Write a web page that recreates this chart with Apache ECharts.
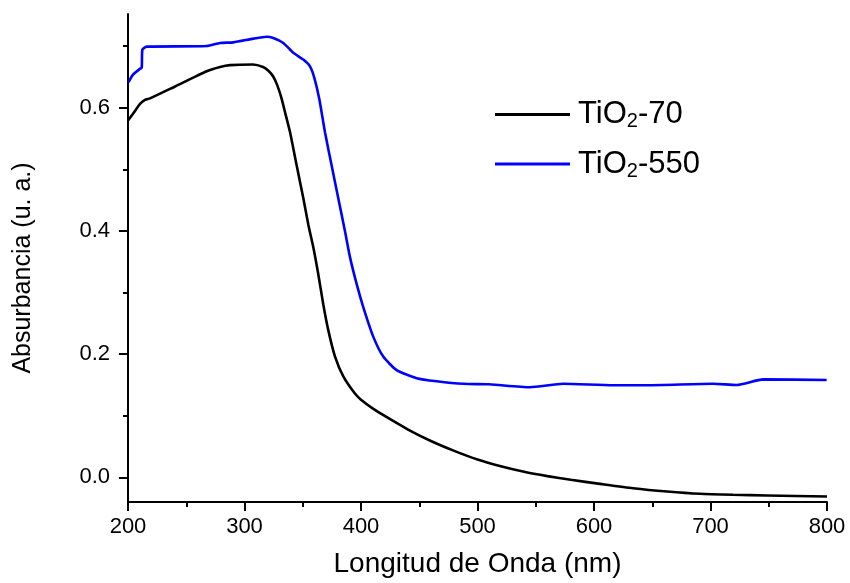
<!DOCTYPE html>
<html><head><meta charset="utf-8">
<script src="https://cdn.jsdelivr.net/npm/echarts@6/dist/echarts.min.js"></script>
<style>html,body{margin:0;padding:0;background:#fff}#c{width:850px;height:583px}</style>
</head><body><div id="c"></div>
<script>
// TiO2-70 (black) : [wavelength nm, absorbance]
const tio70 = [
 [200,0.579],[204.3,0.590],[210.3,0.606],[214.6,0.6125],[218.9,0.615],[240,0.634],[267.6,0.659],
 [279,0.666],[287.6,0.669],[307.3,0.670],[315.9,0.666],[320.5,0.660],[324.5,0.651],[328,0.637],
 [331.5,0.617],[335,0.591],[339.1,0.560],[344.8,0.506],[350.5,0.453],[354.8,0.410],[359.1,0.373],
 [363.3,0.330],[367.6,0.281],[371.9,0.239],[377.7,0.196],[384.8,0.164],[394.8,0.136],[400,0.126],
 [410,0.112],[420,0.100],[440,0.078],[460,0.059],[480,0.043],[500,0.029],[520,0.018],[540,0.009],
 [560,0.002],[580,-0.004],[605.2,-0.0106],[633.5,-0.0177],[662.7,-0.023],[691,-0.0267],
 [719.3,-0.0283],[748.5,-0.0294],[800,-0.031]
];
// TiO2-550 (blue)
const tio550 = [
 [200.3,0.641],[204.5,0.654],[210.3,0.663],[211.8,0.665],[212.3,0.694],[216,0.699],[267.6,0.700],
 [279,0.705],[290.4,0.706],[307.6,0.712],[319,0.715],[324.7,0.713],[333.3,0.705],[341.9,0.689],
 [350.5,0.678],[356.2,0.667],[360,0.648],[364.2,0.614],[369.1,0.560],[374.8,0.506],[380.5,0.453],
 [386.3,0.399],[390.6,0.357],[396.3,0.3135],[402,0.276],[410.6,0.228],[419.1,0.196],[430.6,0.174],
 [447.8,0.161],[465,0.156],[488,0.1518],[510,0.151],[545,0.1463],[573.7,0.1518],[616.6,0.1495],
 [645.2,0.1495],[702.4,0.1518],[722.5,0.150],[745.3,0.159],[799.7,0.158]
];
const yMajor = [0, 0.2, 0.4, 0.6];
const yMinor = [0.1, 0.3, 0.5, 0.7];
const seriesNames = ['TiO2-70', 'TiO2-550'];

const FONT = "'Liberation Sans', Arial, sans-serif";
const chart = echarts.init(document.getElementById('c'));
const yBase = {
  type: 'value', min: -0.04, max: 0.752,
  splitLine: {show: false}
};
chart.setOption({
  animation: false,
  grid: {left: 128, right: 23, top: 14, bottom: 77},
  legend: {
    orient: 'vertical', left: 495, top: 99, itemGap: 17, padding: 0,
    itemWidth: 75, itemHeight: 3, icon: 'rect',
    data: seriesNames,
    formatter: function (n) {
      const parts = n.split('2');
      return '{a|' + parts[0] + '}{s|2}{a|' + parts[1] + '}';
    },
    textStyle: {
      padding: [0,0,0,3],
      rich: {
        a: {fontSize: 31, fontFamily: FONT, color: '#000', lineHeight: 34},
        s: {fontSize: 20, fontFamily: FONT, color: '#000', lineHeight: 6, verticalAlign: 'bottom'}
      }
    }
  },
  xAxis: {
    type: 'value', min: 200, max: 800, interval: 100,
    name: 'Longitud de Onda (nm)', nameLocation: 'middle', nameGap: 48,
    nameTextStyle: {fontSize: 28, fontFamily: FONT, color: '#000'},
    axisLine: {show: true, onZero: false, lineStyle: {color: '#000', width: 2}},
    axisTick: {show: true, inside: false, length: 9, lineStyle: {color: '#000', width: 2}},
    minorTick: {show: true, splitNumber: 2, length: 5, lineStyle: {color: '#000', width: 2}},
    axisLabel: {fontSize: 22, fontFamily: FONT, color: '#000', margin: 14},
    splitLine: {show: false}
  },
  yAxis: [
    Object.assign({}, yBase, {
      name: 'Absurbancia (u. a.)', nameLocation: 'middle', nameGap: 92,
      nameTextStyle: {fontSize: 25, fontFamily: FONT, color: '#000', padding: [0, 20, 0, 0]},
      axisLine: {show: true, onZero: false, lineStyle: {color: '#000', width: 2}},
      axisTick: {show: true, length: 9, customValues: yMajor, lineStyle: {color: '#000', width: 2}},
      axisLabel: {fontSize: 22, fontFamily: FONT, color: '#000', margin: 18, customValues: yMajor,
        formatter: v => v.toFixed(1)}
    }),
    Object.assign({}, yBase, {
      position: 'left',
      axisLine: {show: false},
      axisTick: {show: true, length: 5, customValues: yMinor, lineStyle: {color: '#000', width: 2}},
      axisLabel: {show: false}
    })
  ],
  series: [
    {name: seriesNames[0], type: 'line', data: tio70, showSymbol: false, smooth: 0.2,
     lineStyle: {color: '#000', width: 2.6}, itemStyle: {color: '#000'}},
    {name: seriesNames[1], type: 'line', data: tio550, showSymbol: false, smooth: 0.2,
     lineStyle: {color: '#0000ff', width: 2.6}, itemStyle: {color: '#0000ff'}}
  ]
});
</script></body></html>
